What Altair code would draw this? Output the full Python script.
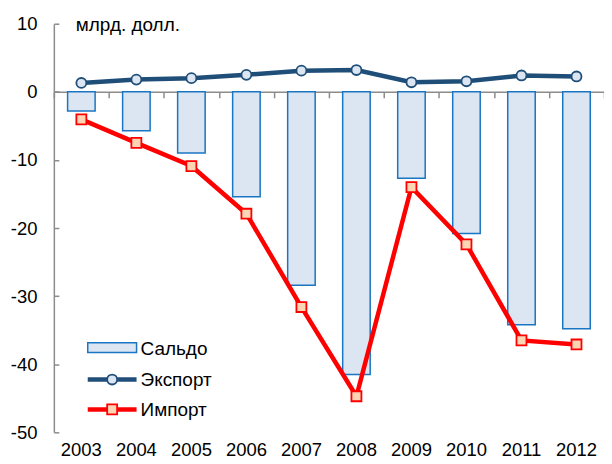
import altair as alt
import pandas as pd

years = ["2003", "2004", "2005", "2006", "2007", "2008", "2009", "2010", "2011", "2012"]
saldo = [-2.8, -5.7, -9.0, -15.4, -28.4, -41.5, -12.7, -20.8, -34.2, -34.8]
export = [1.3, 1.8, 2.0, 2.5, 3.1, 3.2, 1.4, 1.55, 2.4, 2.25]
imports = [-4.05, -7.5, -10.9, -17.9, -31.6, -44.7, -14.0, -22.4, -36.5, -37.1]
legend_labels = ["Сальдо", "Экспорт", "Импорт"]
unit_label = "млрд. долл."
y_ticks = [-50, -40, -30, -20, -10, 0, 10]

df = pd.DataFrame({"year": years, "saldo": saldo, "export": export, "import": imports})
one = pd.DataFrame({"k": [0]})

W = 552
H = 410
FONT = "Liberation Sans"
FS = 18.5
TFS = 19
NAVY = "#1f4e79"
RED = "#ff0000"
BAR_FILL = "#dce6f2"
BAR_STROKE = "#1a75c2"
GRAY = "#8c8c8c"

xscale = alt.Scale(paddingInner=0, paddingOuter=0)
yscale = alt.Scale(domain=[-50, 10], nice=False, zero=False)
zero_from_bottom = H * 50 / 60

bars = alt.Chart(df).mark_bar(
    fill=BAR_FILL, stroke=BAR_STROKE, strokeWidth=1.5, width={"band": 0.5}
).encode(
    x=alt.X("year:O", scale=xscale, title=None,
            axis=alt.Axis(orient="bottom", offset=-zero_from_bottom, labels=False,
                          domainColor=GRAY, domainWidth=1.5, tickColor=GRAY,
                          tickWidth=1.5, tickSize=6, tickBand="extent")),
    y=alt.Y("saldo:Q", scale=yscale, title=None,
            axis=alt.Axis(orient="left", values=y_ticks, ticks=False, labelPadding=17,
                          labelExpr="toString(datum.value)",
                          domainColor=GRAY, domainWidth=1.5, labelFont=FONT,
                          labelFontSize=FS, labelColor="black", grid=False)),
)

exp_line = alt.Chart(df).mark_line(color=NAVY, strokeWidth=4.5).encode(
    x=alt.X("year:O", scale=xscale, title=None,
            axis=alt.Axis(orient="bottom", domain=False, ticks=False, labelPadding=8,
                          labelFont=FONT, labelFontSize=FS, labelColor="black",
                          labelAngle=0)),
    y=alt.Y("export:Q", scale=yscale, title=None,
            axis=alt.Axis(orient="right", offset=-W, values=y_ticks, labels=False,
                          domain=False, tickColor=GRAY, tickWidth=1.5, tickSize=5,
                          grid=False)),
)
exp_pts = alt.Chart(df).mark_point(
    shape="circle", filled=True, fill=BAR_FILL, stroke=NAVY, strokeWidth=1.8,
    size=100, opacity=1
).encode(
    x=alt.X("year:O", scale=xscale, axis=None),
    y=alt.Y("export:Q", scale=yscale, axis=None),
)

imp_line = alt.Chart(df).mark_line(color=RED, strokeWidth=4.5).encode(
    x=alt.X("year:O", scale=xscale, axis=None),
    y=alt.Y("import:Q", scale=yscale, axis=None),
)
imp_pts = alt.Chart(df).mark_point(
    shape="square", filled=True, fill="#fcd5b5", stroke=RED, strokeWidth=1.8,
    size=100, opacity=1
).encode(
    x=alt.X("year:O", scale=xscale, axis=None),
    y=alt.Y("import:Q", scale=yscale, axis=None),
)

unit_text = alt.Chart(one).mark_text(
    text=unit_label, align="left", baseline="middle", font=FONT, fontSize=TFS, color="black"
).encode(x=alt.value(22), y=alt.value(1))

# legend
lx0, lx1, ltx = 34, 83, 87
ly = [325, 357, 387]
leg_rect = alt.Chart(one).mark_rect(fill=BAR_FILL, stroke=BAR_STROKE, strokeWidth=1.5).encode(
    x=alt.value(lx0), x2=alt.value(lx1), y=alt.value(ly[0] - 5), y2=alt.value(ly[0] + 5))
leg_exp_rule = alt.Chart(one).mark_rule(color=NAVY, strokeWidth=4.5).encode(
    x=alt.value(lx0), x2=alt.value(lx1), y=alt.value(ly[1]))
leg_exp_pt = alt.Chart(one).mark_point(
    shape="circle", filled=True, fill=BAR_FILL, stroke=NAVY, strokeWidth=1.8, size=100, opacity=1
).encode(x=alt.value((lx0 + lx1) / 2), y=alt.value(ly[1]))
leg_imp_rule = alt.Chart(one).mark_rule(color=RED, strokeWidth=4.5).encode(
    x=alt.value(lx0), x2=alt.value(lx1), y=alt.value(ly[2]))
leg_imp_pt = alt.Chart(one).mark_point(
    shape="square", filled=True, fill="#fcd5b5", stroke=RED, strokeWidth=1.8, size=100, opacity=1
).encode(x=alt.value((lx0 + lx1) / 2), y=alt.value(ly[2]))
leg_texts = [
    alt.Chart(one).mark_text(text=legend_labels[i], align="left", baseline="middle",
                             font=FONT, fontSize=TFS, color="black"
                             ).encode(x=alt.value(ltx), y=alt.value(ly[i] + 1))
    for i in range(3)
]

chart = alt.layer(
    bars, exp_line, exp_pts, imp_line, imp_pts, unit_text,
    leg_rect, leg_exp_rule, leg_exp_pt, leg_imp_rule, leg_imp_pt, *leg_texts
).resolve_axis(x="independent", y="independent").properties(
    width=W, height=H,
    autosize=alt.AutoSizeParams(type="none"),
    padding={"left": 46, "top": 15, "right": 0, "bottom": 31},
).configure_view(strokeWidth=0)

chart.save("out.html", embed_options={"renderer": "svg", "actions": False})
